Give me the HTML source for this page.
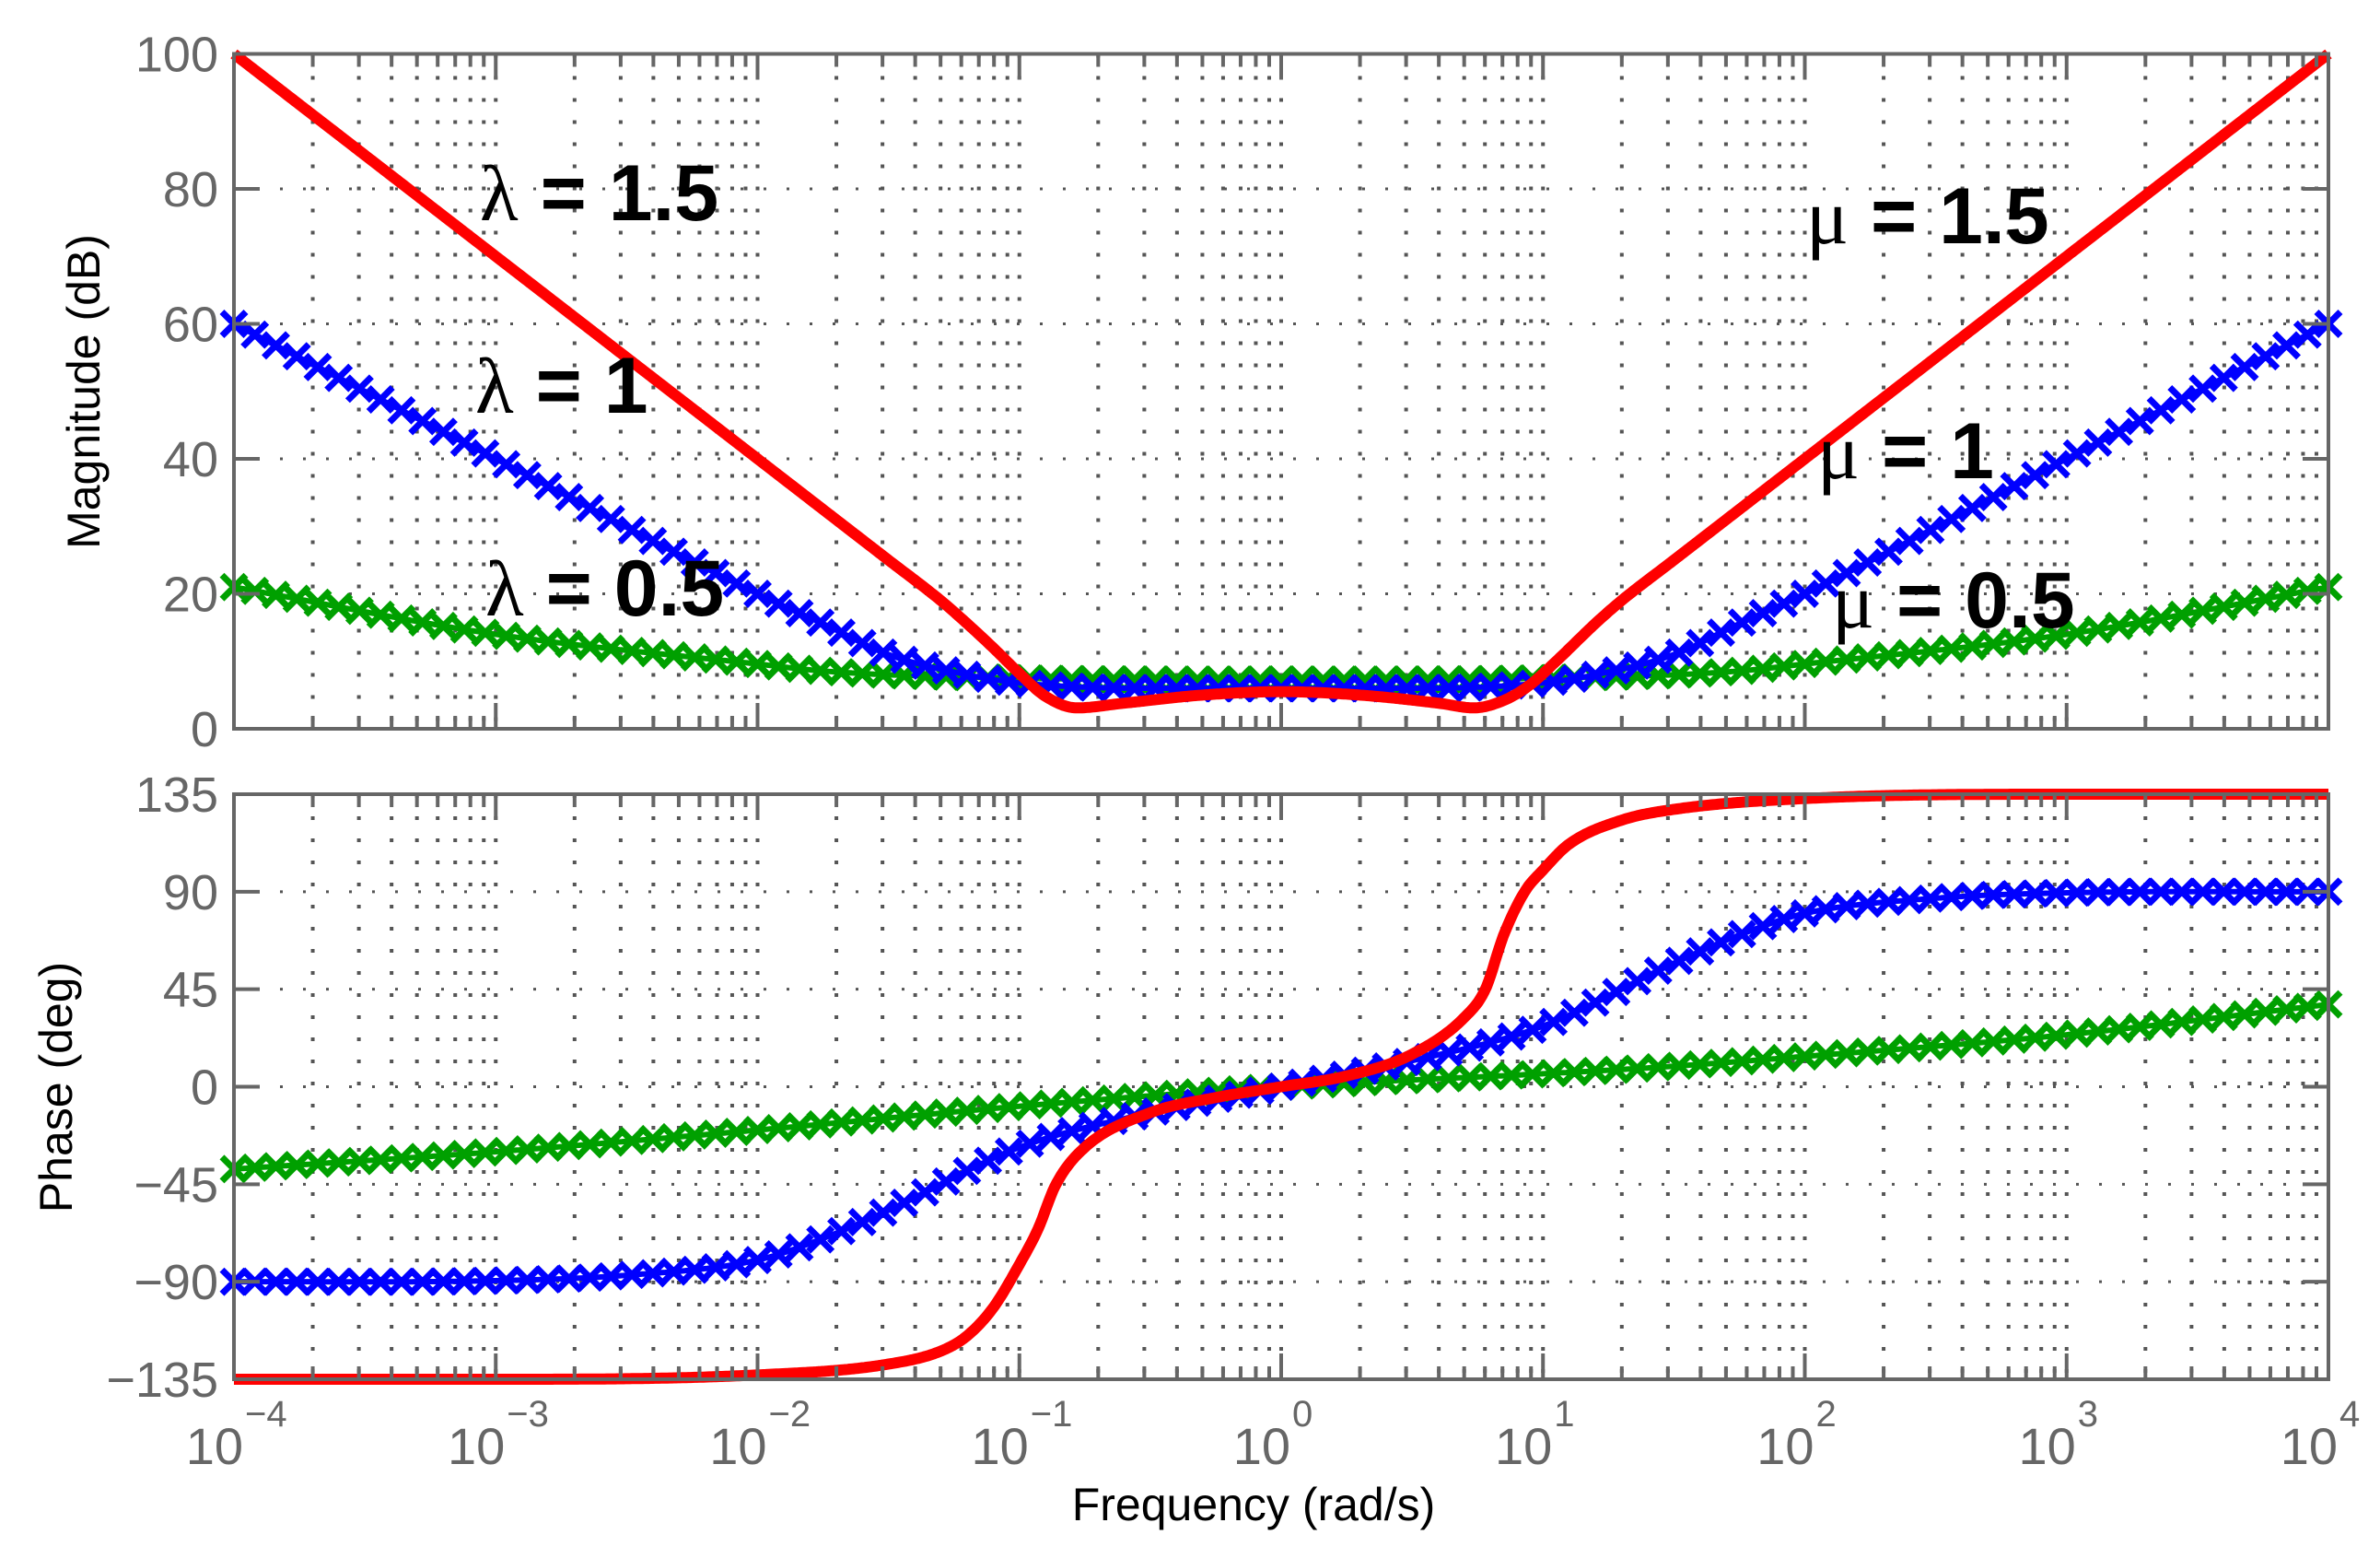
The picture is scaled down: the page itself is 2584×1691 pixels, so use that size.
<!DOCTYPE html>
<html><head><meta charset="utf-8"><style>
html,body{margin:0;padding:0;background:#fff;}
svg{display:block;}
text{font-family:"Liberation Sans",sans-serif;}
</style></head><body>
<svg id="chart" width="2584" height="1691" viewBox="0 0 2584 1691" xmlns="http://www.w3.org/2000/svg">
<rect width="2584" height="1691" fill="#fff"/>
<g id="grid"></g>
<g id="series"></g>
<g id="axes"></g>
<g id="labels"></g>
</svg>
<script>
// ---------- data ----------
const decadeTicks = [-4,-3,-2,-1,0,1,2,3,4];
const magTicks = [0,20,40,60,80,100];
const phaseTicks = [-135,-90,-45,0,45,90,135];
const phaseTickLabels = ["\u2212135","\u221290","\u221245","0","45","90","135"];

const redMagLogW = [-4,-3,-2,-1.5,-1.3,-1.2,-1.1,-1.0,-0.9,-0.78,-0.6,-0.3,0,0.3,0.6,0.735,0.85,0.95,1.05,1.2,1.3,1.5,2,3,4];
const redMagDb   = [100,70,40,25,19,15.6,12,8.2,4.8,3.1,3.8,5,5.5,5,3.8,3.1,4.2,6.5,10,15.6,19,25,40,70,100];
const blueMagLogW = [-4,-3,-2,-1.73,-1.5,-1.2,-1,-0.5,0,0.5,1,1.2,1.5,1.73,2,3,4];
const blueMagDb   = [60,40,20,15.2,11,8,6.8,6,6,6,6.8,8,11,15.2,20,40,60];
const greenMagLogW = [-4,-3,-2,-1.73,-1,0,1,1.73,2,3,4];
const greenMagDb   = [21,14,9.6,8.5,7.5,7.3,7.5,8.5,9.6,14,21];

const redPhLogW = [-4,-3,-2,-1.5,-1.3,-1.2,-1.1,-1.0,-0.93,-0.86,-0.75,-0.5,-0.25,0,0.25,0.5,0.7,0.78,0.85,0.93,1.0,1.1,1.3,1.5,2,3,4];
const redPhDeg  = [-135,-135,-133,-128,-122,-115,-102,-82,-66,-45,-28,-12,-5,0,5,15,32,45,70,90,100,112,123,128,133,135,135];
const bluePhLogW = [-4,-3,-2.5,-2,-1.75,-1.5,-1,-0.5,0,0.5,1,1.5,1.75,2,2.5,3,4];
const bluePhDeg  = [-90,-89.5,-87,-80,-70,-57,-28,-12,0,12,28,57,70,80,87,89.5,90];
const greenPhLogW = [-4,-3,-2,-1,0,1,1.44,2,3,4];
const greenPhDeg  = [-38,-30,-20,-9,0,6,9,14,24,38];

// ---------- geometry ----------
const X0=254, X1=2528;
const M_TOP=58.5, M_BOT=791;
const P_TOP=862, P_BOT=1497;
const xs = lw => X0 + (lw+4)/8*(X1-X0);
const ym = db => M_BOT - db/100*(M_BOT-M_TOP);
const yp = d => P_BOT - (d+135)/270*(P_BOT-P_TOP);
const NS="http://www.w3.org/2000/svg";
function mk(tag, attrs, parent){const e=document.createElementNS(NS,tag);for(const k in attrs)e.setAttribute(k,attrs[k]);parent.appendChild(e);return e;}
const grid=document.getElementById('grid'), series=document.getElementById('series'), axes=document.getElementById('axes'), labels=document.getElementById('labels');

function interp(xa, ya){
  const n=xa.length, d=[], m=[];
  for(let i=0;i<n-1;i++) d.push((ya[i+1]-ya[i])/(xa[i+1]-xa[i]));
  m[0]=d[0]; m[n-1]=d[n-2];
  for(let i=1;i<n-1;i++){ m[i]=(d[i-1]*d[i]<=0)?0:(d[i-1]+d[i])/2; }
  return function(x){
    let i=0; while(i<n-2 && x>xa[i+1]) i++;
    const h=xa[i+1]-xa[i], t=(x-xa[i])/h, t2=t*t, t3=t2*t;
    return (2*t3-3*t2+1)*ya[i]+(t3-2*t2+t)*h*m[i]+(-2*t3+3*t2)*ya[i+1]+(t3-t2)*h*m[i+1];
  };
}

// ---------- grid ----------
function gridFor(top,bot,yticks,yfun){
  for(let dcd=-4; dcd<4; dcd++){
    for(let k=1;k<=9;k++){
      const lw=dcd+Math.log10(k); if(k===1 && dcd===-4) continue;
      const x=xs(lw);
      const gl=mk('line',{x1:x,y1:top,x2:x,y2:bot,stroke:'#555','stroke-width':4,'stroke-dasharray':'4 20'},grid);
      
      
    }
  }
  yticks.forEach(v=>{
    const y=yfun(v);
    const gl=mk('line',{x1:X0,y1:y,x2:X1,y2:y,stroke:'#555','stroke-width':3,'stroke-dasharray':'3 22'},grid);
    
    
  });
}
gridFor(M_TOP,M_BOT,magTicks,ym);
gridFor(P_TOP,P_BOT,phaseTicks,yp);

// ---------- series ----------
function drawSeries(xa,ya,yfun,color,markers,name){
  const f=interp(xa,ya);
  let d='';
  for(let i=0;i<=1000;i++){const lw=-4+8*i/1000;d+=(i?'L':'M')+xs(lw).toFixed(1)+' '+yfun(f(lw)).toFixed(1);}
  const p=mk('path',{d:d,fill:'none',stroke:color,'stroke-width':markers?6:12,'stroke-linejoin':'round'},series);
  
  
  if(markers){
    const N=100, s=13;
    let md='';
    for(let i=0;i<=N;i++){
      const lw=-4+8*i/N, x=xs(lw), y=yfun(f(lw));
      md+=`M${(x-s).toFixed(1)} ${(y-s).toFixed(1)}L${(x+s).toFixed(1)} ${(y+s).toFixed(1)}M${(x-s).toFixed(1)} ${(y+s).toFixed(1)}L${(x+s).toFixed(1)} ${(y-s).toFixed(1)}`;
    }
    const mp=mk('path',{d:md,fill:'none',stroke:color,'stroke-width':7},series);
    
    
  }
}
drawSeries(greenMagLogW,greenMagDb,ym,'#00a000',true,'magnitude-lambda-0.5');
drawSeries(blueMagLogW,blueMagDb,ym,'#0000ff',true,'magnitude-lambda-1');
drawSeries(redMagLogW,redMagDb,ym,'#ff0000',false,'magnitude-lambda-1.5');
drawSeries(greenPhLogW,greenPhDeg,yp,'#00a000',true,'phase-lambda-0.5');
drawSeries(bluePhLogW,bluePhDeg,yp,'#0000ff',true,'phase-lambda-1');
drawSeries(redPhLogW,redPhDeg,yp,'#ff0000',false,'phase-lambda-1.5');

// ---------- axes ----------
function axesFor(top,bot,yticks,yfun,ylabels,name){
  const r=mk('rect',{x:X0,y:top,width:X1-X0,height:bot-top,fill:'none',stroke:'#666','stroke-width':4},axes);
  
  
  for(let dcd=-4; dcd<4; dcd++){
    for(let k=1;k<=9;k++){
      const lw=dcd+Math.log10(k), x=xs(lw), L=(k===1)?28:14;
      mk('line',{x1:x,y1:bot,x2:x,y2:bot-L,stroke:'#666','stroke-width':4},axes);
      mk('line',{x1:x,y1:top,x2:x,y2:top+L,stroke:'#666','stroke-width':4},axes);
    }
  }
  yticks.forEach((v,i)=>{
    const y=yfun(v);
    mk('line',{x1:X0,y1:y,x2:X0+28,y2:y,stroke:'#666','stroke-width':4},axes);
    mk('line',{x1:X1,y1:y,x2:X1-28,y2:y,stroke:'#666','stroke-width':4},axes);
    const t=mk('text',{x:X0-17,y:y+19,'text-anchor':'end','font-size':54,fill:'#666'},labels);
    t.textContent=ylabels[i];
    
    
  });
}
axesFor(M_TOP,M_BOT,magTicks,ym,magTicks.map(String),'magnitude');
axesFor(P_TOP,P_BOT,phaseTicks,yp,phaseTickLabels,'phase');

decadeTicks.forEach(e=>{
  const x=xs(e);
  const t=mk('text',{x:x+10,y:1589,'text-anchor':'end','font-size':56,fill:'#666'},labels);
  t.textContent='10';
  
  
  const s=mk('text',{x:x+12,y:1548,'text-anchor':'start','font-size':40,fill:'#666'},labels);
  s.textContent=(e<0?'\u2212':'')+Math.abs(e);
  
  
});

labels.insertAdjacentHTML('beforeend',`
<text transform="translate(108,425) rotate(-90)" text-anchor="middle" font-size="50" fill="#000">Magnitude (dB)</text>
<text transform="translate(78,1180) rotate(-90)" text-anchor="middle" font-size="50" fill="#000">Phase (deg)</text>
<text x="1361" y="1650" text-anchor="middle" font-size="50" fill="#000">Frequency  (rad/s)</text>
<text x="521" y="239" font-size="86" font-weight="bold" fill="#000"><tspan font-family="Liberation Serif,serif" font-weight="normal">λ</tspan> = 1.5</text>
<text x="516" y="448" font-size="86" font-weight="bold" fill="#000"><tspan font-family="Liberation Serif,serif" font-weight="normal">λ</tspan> = 1</text>
<text x="527" y="668" font-size="86" font-weight="bold" fill="#000"><tspan font-family="Liberation Serif,serif" font-weight="normal">λ</tspan> = 0.5</text>
<text x="1961" y="264" font-size="86" font-weight="bold" fill="#000"><tspan font-family="Liberation Serif,serif" font-weight="normal">μ</tspan> = 1.5</text>
<text x="1973" y="519" font-size="86" font-weight="bold" fill="#000"><tspan font-family="Liberation Serif,serif" font-weight="normal">μ</tspan> = 1</text>
<text x="1989" y="681" font-size="86" font-weight="bold" fill="#000"><tspan font-family="Liberation Serif,serif" font-weight="normal">μ</tspan> = 0.5</text>
`);
</script>
</body></html>
